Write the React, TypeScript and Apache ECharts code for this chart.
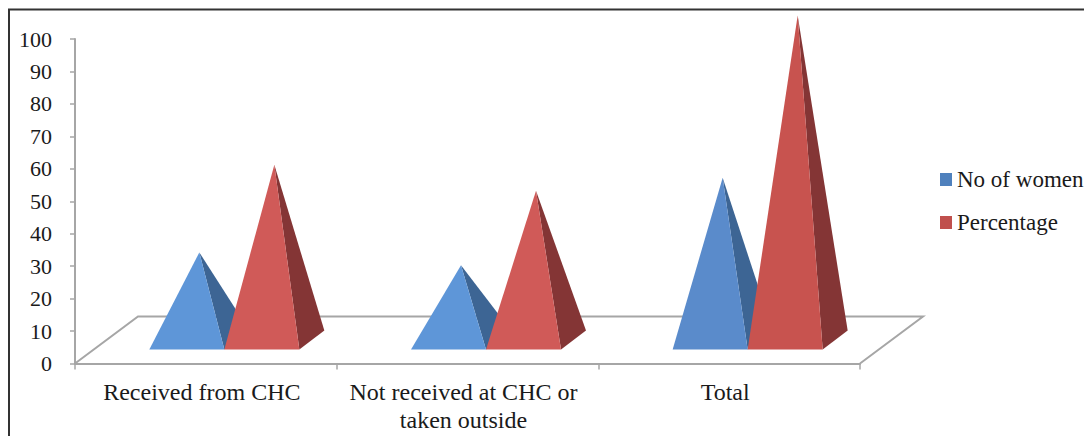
import React, { useEffect, useRef } from "react";
import * as echarts from "echarts";

const categories = ["Received from CHC", "Not received at CHC or\ntaken outside", "Total"];
const noOfWomen = [27, 23, 50];
const percentage = [54, 46, 100];
const seriesNames = ["No of women", "Percentage"];

const FONT = '"Liberation Serif", "Times New Roman", serif';
const AXIS_GRAY = "#a6a6a6";

// Oblique projection of the chart's floor: the back edge sits up and to the right.
const FLOOR_DX = 63;
const FLOOR_DY = 47;
const PYRAMID_DX = 25;
const PYRAMID_DY = 19;
const PYRAMID_WIDTH = 75;

const pyramid =
  (slot: number, front: string[], side: string) => (params: any, api: any) => {
    const idx = api.value(0);
    const v = api.value(1);
    const zero = api.coord([idx, 0]);
    const top = api.coord([idx, v]);
    const baseY = zero[1] - (FLOOR_DY - PYRAMID_DY) / 2;
    const left = zero[0] + (FLOOR_DX - PYRAMID_DX) / 2 + slot * PYRAMID_WIDTH - 0.5;
    const right = left + PYRAMID_WIDTH;
    const apex = [
      left + PYRAMID_WIDTH / 2 + PYRAMID_DX / 2,
      top[1] - FLOOR_DY / 2,
    ];
    const fill = front[idx];
    return {
      type: "group",
      children: [
        {
          type: "polygon",
          shape: {
            points: [
              [right, baseY],
              [right + PYRAMID_DX, baseY - PYRAMID_DY],
              apex,
            ],
          },
          style: { fill: side },
        },
        {
          type: "polygon",
          shape: { points: [[left, baseY], [right, baseY], apex] },
          style: { fill },
        },
      ],
    };
  };

const floor = (params: any, api: any) => {
  const a = api.coord([0, 0]);
  const size = api.size([1, 0]);
  const x0 = a[0] - size[0] / 2;
  const x1 = x0 + size[0] * categories.length;
  const y = a[1];
  return {
    type: "polyline",
    shape: {
      points: [
        [x0, y],
        [x0 + FLOOR_DX, y - FLOOR_DY],
        [x1 + FLOOR_DX, y - FLOOR_DY],
        [x1, y],
      ],
    },
    style: { stroke: AXIS_GRAY, lineWidth: 2, fill: "none" },
  };
};

export default function App() {
  const ref = useRef<HTMLDivElement>(null);
  useEffect(() => {
    const chart = echarts.init(ref.current!, undefined, { renderer: "svg" });
    chart.setOption({
      animation: false,
      backgroundColor: "#ffffff",
      graphic: [
        {
          type: "polyline",
          shape: { points: [[9, 436], [9, 9.5], [1084, 9.5]] },
          style: { stroke: "#333333", lineWidth: 2, fill: "none" },
        },
      ],
      grid: { left: 75, top: 39, width: 785, height: 324.5, containLabel: false },
      legend: {
        orient: "vertical",
        left: 940,
        top: 168,
        padding: 0,
        itemWidth: 12,
        itemHeight: 13,
        itemGap: 20,
        data: seriesNames,
        icon: "rect",
        textStyle: {
          fontFamily: FONT,
          fontSize: 23,
          color: "#1a1a1a",
        },
      },
      xAxis: {
        type: "category",
        data: categories,
        axisLine: { lineStyle: { color: AXIS_GRAY, width: 2 } },
        axisTick: { show: true, length: 6, lineStyle: { color: AXIS_GRAY, width: 1.5 } },
        axisLabel: {
          fontFamily: FONT,
          fontSize: 24,
          color: "#1a1a1a",
          margin: 14,
          lineHeight: 28,
          padding: [0, 8, 0, 0],
          interval: 0,
        },
      },
      yAxis: {
        type: "value",
        min: 0,
        max: 100,
        interval: 10,
        splitLine: { show: false },
        axisLine: { show: true, lineStyle: { color: AXIS_GRAY, width: 2 } },
        axisTick: { show: true, length: 5, lineStyle: { color: AXIS_GRAY, width: 1.5 } },
        axisLabel: { fontFamily: FONT, fontSize: 22, color: "#1a1a1a", margin: 23 },
      },
      series: [
        {
          type: "custom",
          silent: true,
          renderItem: floor,
          data: [[0, 0]],
          z: 1,
          clip: false,
          legendHoverLink: false,
        },
        {
          type: "custom",
          name: seriesNames[0],
          renderItem: pyramid(-1, ["#5e96d8", "#5e96d8", "#5a8bcb"], "#3d6594"),
          data: noOfWomen.map((v, i) => [i, v]),
          itemStyle: { color: "#4f81bd" },
          z: 2,
          clip: false,
        },
        {
          type: "custom",
          name: seriesNames[1],
          renderItem: pyramid(0, ["#d05a58", "#d05a58", "#c8534f"], "#843535"),
          data: percentage.map((v, i) => [i, v]),
          itemStyle: { color: "#c0504d" },
          z: 3,
          clip: false,
        },
      ],
    });
    return () => chart.dispose();
  }, []);
  return (
    <div
      ref={ref}
      style={{ position: "fixed", left: 0, top: 0, width: 1084, height: 436 }}
    />
  );
}
